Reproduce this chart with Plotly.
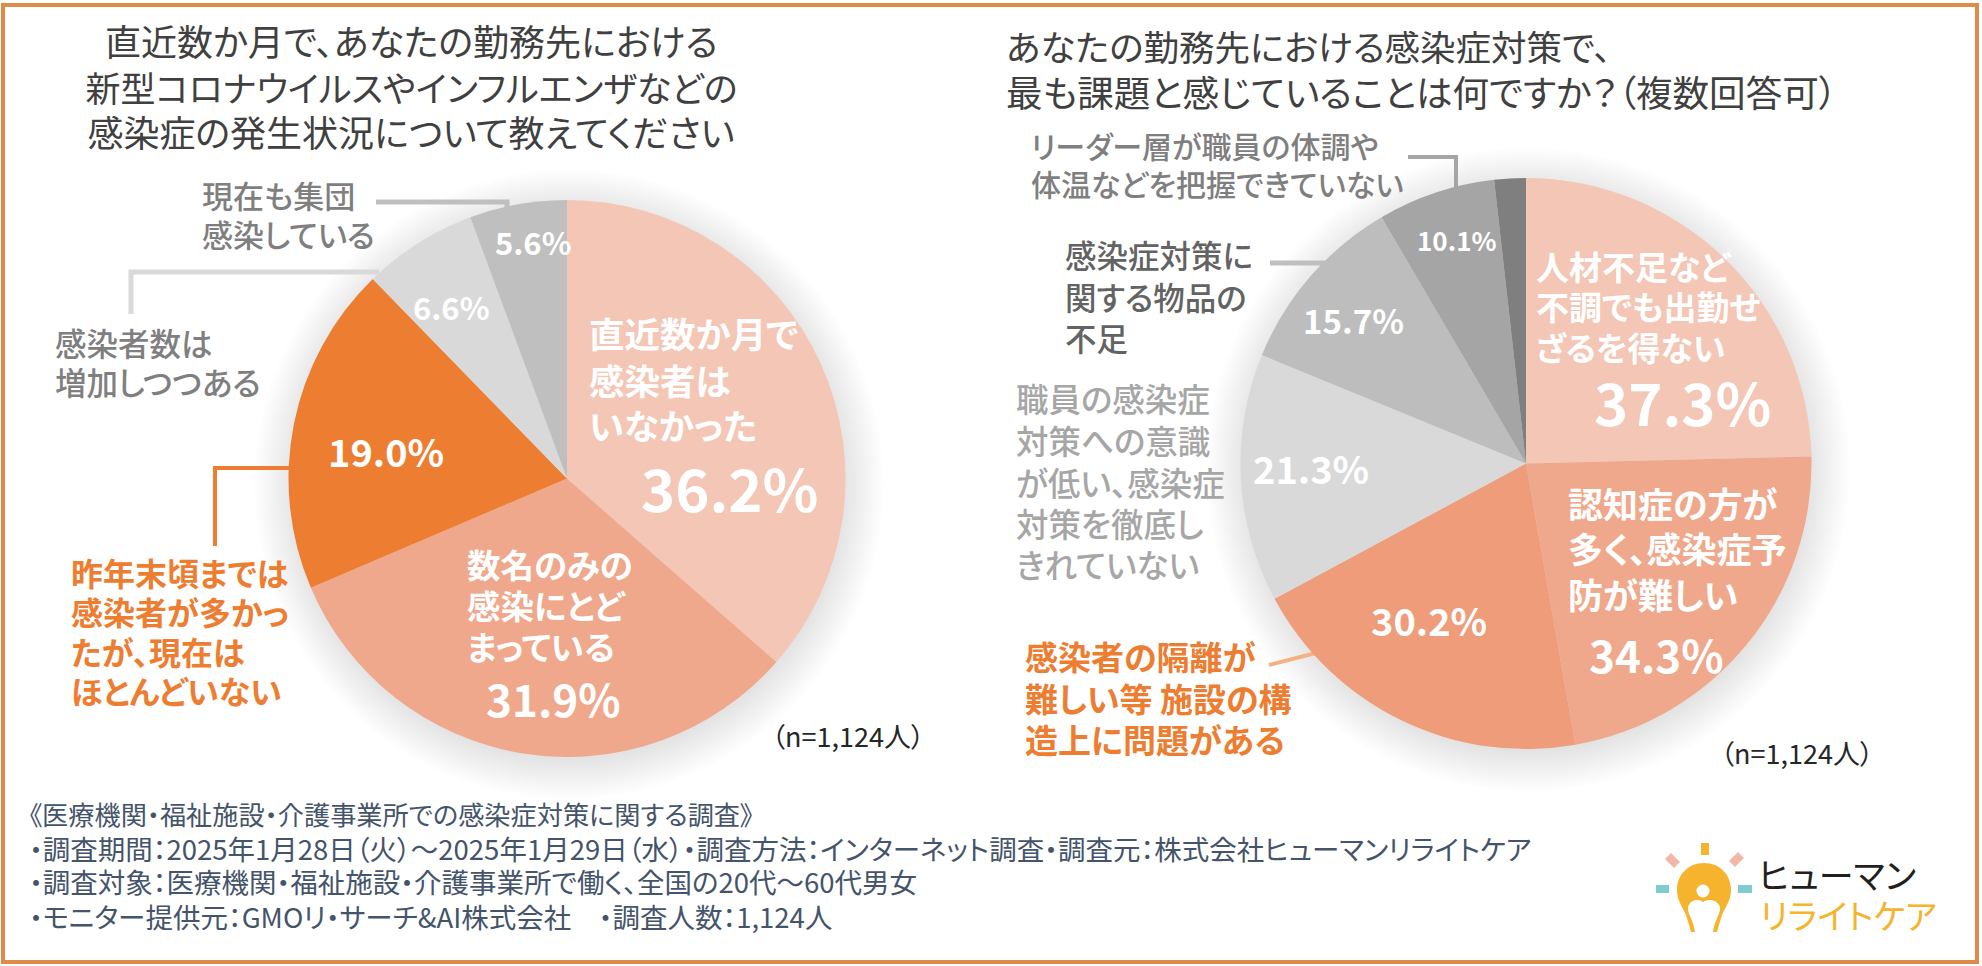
import plotly.graph_objects as go

W, H = 1982, 966
FONT = "Noto Sans CJK JP"

# ---- data ----
left_labels = ["直近数か月で感染者はいなかった", "数名のみの感染にとどまっている",
               "昨年末頃までは感染者が多かったが、現在はほとんどいない",
               "感染者数は増加しつつある", "現在も集団感染している"]
left_values = [36.2, 31.9, 19.0, 6.6, 5.6]
left_colors = ["#F4C6B6", "#F0A88C", "#ED7D31", "#D9D9D9", "#BFBFBF"]

right_labels = ["人材不足など不調でも出勤せざるを得ない", "認知症の方が多く、感染症予防が難しい",
                "感染者の隔離が難しい等 施設の構造上に問題がある",
                "職員の感染症対策への意識が低い、感染症対策を徹底しきれていない",
                "感染症対策に関する物品の不足", "リーダー層が職員の体調や体温などを把握できていない", "その他"]
right_values = [37.3, 34.3, 30.2, 21.3, 15.7, 10.1, 2.7]
right_colors = ["#F4C6B6", "#F0A88C", "#EE9C7A", "#D9D9D9", "#BDBDBD", "#A5A5A5", "#7F7F7F"]

left_title = ["直近数か月で、あなたの勤務先における", "新型コロナウイルスやインフルエンザなどの", "感染症の発生状況について教えてください"]
right_title = ["あなたの勤務先における感染症対策で、", "最も課題と感じていることは何ですか？（複数回答可）"]
footer = ["《医療機関・福祉施設・介護事業所での感染症対策に関する調査》",
          "・調査期間：2025年1月28日（火）～2025年1月29日（水）・調査方法：インターネット調査・調査元：株式会社ヒューマンリライトケア",
          "・調査対象：医療機関・福祉施設・介護事業所で働く、全国の20代～60代男女",
          "・モニター提供元：GMOリ・サーチ&AI株式会社　・調査人数：1,124人"]
sample_note = "（n=1,124人）"


def px(x):
    return x / W


def py(y):
    return 1 - y / H


annotations = []
shapes = []


def text(s, x, y, size, color, weight=400, anchor="left"):
    annotations.append(dict(text=s, x=px(x), y=py(y - 2.5), xref="paper", yref="paper", showarrow=False,
                            xanchor=anchor, align=anchor, yanchor="middle", borderpad=0,
                            font=dict(family=FONT, size=size, color=color, weight=weight)))


def block(lines, x, ys, size, color, weight=400, anchor="left"):
    for s, y in zip(lines, ys):
        text(s, x, y, size, color, weight, anchor)


def pct(v):
    return f"{v:.1f}%"


def poly(points, color, width=4):
    d = "M" + " L".join(f"{px(a):.5f},{py(b):.5f}" for a, b in points)
    shapes.append(dict(type="path", path=d, xref="paper", yref="paper",
                       line=dict(color=color, width=width), layer="below"))


def filled(d_cmds, color):
    out = []
    for c in d_cmds:
        if isinstance(c, str):
            out.append(c)
        else:
            out.append(f"{px(c[0]):.5f},{py(c[1]):.5f}")
    shapes.append(dict(type="path", path=" ".join(out), xref="paper", yref="paper",
                       fillcolor=color, line=dict(width=0), layer="above"))


def ellipse(cx, cy, rx, ry, color, layer="above", opacity=1.0):
    shapes.append(dict(type="circle", xref="paper", yref="paper", x0=px(cx - rx), x1=px(cx + rx),
                       y0=py(cy + ry), y1=py(cy - ry), fillcolor=color, line=dict(width=0),
                       layer=layer, opacity=opacity))


def shadow(cx, cy, r):
    for i in range(16):
        ellipse(cx + 2, cy + 6, r + 36 - i * 3, r + 36 - i * 3, "#000000", "below", 0.009)


def domain(cx, cy, r):
    return dict(x=[px(cx - r), px(cx + r)], y=[py(cy + r), py(cy - r)])


fig = go.Figure()
LC, RC = (567, 478.5, 278.5), (1526, 463.5, 285.5)
shadow(*LC)
shadow(*RC)
for labels, values, colors, geo in [(left_labels, left_values, left_colors, LC),
                                    (right_labels, right_values, right_colors, RC)]:
    fig.add_trace(go.Pie(labels=labels, values=values, sort=False, direction="clockwise", rotation=0,
                         textinfo="none", marker=dict(colors=colors, line=dict(width=0)),
                         domain=domain(*geo), showlegend=False))

# frame
shapes.append(dict(type="rect", xref="paper", yref="paper", x0=px(3), x1=px(1977), y0=py(962), y1=py(5),
                   line=dict(color="#E08A4A", width=4), layer="below"))

# leaders
poly([(376, 202), (507, 202), (507, 209)], "#BFBFBF", 5)
poly([(131, 314), (131, 272), (379, 272)], "#D9D9D9", 5)
poly([(290, 468), (215, 468), (215, 546)], "#ED7D31", 4)
poly([(1408, 157), (1456, 157), (1456, 187)], "#A5A5A5", 4)
poly([(1270, 263), (1325, 263)], "#BFBFBF", 5)
poly([(1269, 665), (1339, 647)], "#F4B183", 4)

DARK = "#404040"
G1 = "#7F7F7F"
ORANGE = "#ED7D31"
WHITE = "#FFFFFF"

# left chart texts
for s, y, size in zip(left_title, [43, 89, 134], [36, 35, 36]):
    text(s, 411, y, size, DARK, anchor="center")
block(["現在も集団", "感染している"], 201, [197, 236], 31, G1, 500)
block(["感染者数は", "増加しつつある"], 54, [344, 383], 31.5, G1, 500)
block(["昨年末頃までは", "感染者が多かっ", "たが、現在は", "ほとんどいない"], 70, [574, 613, 653, 692], 32, ORANGE, 700)
block(["直近数か月で", "感染者は", "いなかった"], 588, [335, 382, 427], 35.5, WHITE, 700)
block(["数名のみの", "感染にとど", "まっている"], 466, [566, 607, 648], 33.5, WHITE, 700)
text(pct(left_values[0]), 729, 489, 58, WHITE, 700, "center")
text(pct(left_values[1]), 553, 700, 44, WHITE, 700, "center")
text(pct(left_values[2]), 386, 453, 38, WHITE, 700, "center")
text(pct(left_values[3]), 451, 309, 31, WHITE, 700, "center")
text(pct(left_values[4]), 533, 244, 31, WHITE, 700, "center")
text(sample_note, 848, 738, 27, "#262626", anchor="center")

# right chart texts
for s, y, size in zip(right_title, [48, 94], [35.5, 36.6]):
    text(s, 1005, y, size, DARK)
block(["リーダー層が職員の体調や", "体温などを把握できていない"], 1030, [147, 185], 30, G1, 500)
block(["感染症対策に", "関する物品の", "不足"], 1064, [256, 298, 339], 31.5, "#636363", 500)
block(["職員の感染症", "対策への意識", "が低い、感染症", "対策を徹底し", "きれていない"], 1015,
      [400, 442, 484, 525, 566], 32.5, "#A6A6A6", 500)
block(["感染者の隔離が", "難しい等 施設の構", "造上に問題がある"], 1024, [658, 700, 741], 33, ORANGE, 700)
block(["人材不足など", "不調でも出勤せ", "ざるを得ない"], 1535, [268, 308, 350], 33, WHITE, 700)
block(["認知症の方が", "多く、感染症予", "防が難しい"], 1567, [505, 550, 596], 35, WHITE, 700)
text(pct(right_values[0]), 1682, 403, 58, WHITE, 700, "center")
text(pct(right_values[1]), 1656, 656, 44, WHITE, 700, "center")
text(pct(right_values[2]), 1429, 622, 38, WHITE, 700, "center")
text(pct(right_values[3]), 1311, 470, 38, WHITE, 700, "center")
text(pct(right_values[4]), 1353, 323, 33, WHITE, 700, "center")
text(pct(right_values[5]), 1457, 242, 26, WHITE, 700, "center")
text(sample_note, 1797, 755, 27, "#262626", anchor="center")

# footer
for s, y, size in zip(footer, [816, 850, 883, 918], [26.2, 27.5, 27.5, 27.5]):
    text(s, 28, y, size, "#44546A")

# logo
GOLD = "#F5B32E"
filled(["M", (1701, 843), "L", (1709, 843), "L", (1709, 855), "L", (1701, 855), "Z"], GOLD)
filled(["M", (1665, 859), "L", (1671, 853), "L", (1680, 862), "L", (1674, 868), "Z"], "#F2B7A6")
filled(["M", (1729, 861), "L", (1738, 852), "L", (1744, 858), "L", (1735, 867), "Z"], "#F2B7A6")
filled(["M", (1656, 885), "L", (1669, 885), "L", (1669, 893), "L", (1656, 893), "Z"], "#7FCBD0")
filled(["M", (1738, 885), "L", (1752, 885), "L", (1752, 893), "L", (1738, 893), "Z"], "#7FCBD0")
filled(["M", (1704, 863), "C", (1688, 863), (1677, 875), (1677, 890),
        "C", (1677, 902), (1684, 908), (1687, 918), "L", (1691, 932), "L", (1717, 932), "L", (1721, 918),
        "C", (1724, 908), (1731, 902), (1731, 890), "C", (1731, 875), (1720, 863), (1704, 863), "Z"], GOLD)
filled(["M", (1703, 902), "C", (1698, 898), (1690, 900), (1688, 907), "C", (1687, 914), (1694, 920), (1695, 933),
        "L", (1713, 933), "C", (1714, 920), (1721, 914), (1720, 907), "C", (1718, 900), (1708, 898), (1703, 902), "Z"],
       WHITE)
ellipse(1703, 891, 6.5, 6.5, WHITE)
text("ヒューマン", 1757, 876, 35, "#231F20")
text("リライトケア", 1759, 917, 34, GOLD)

fig.update_layout(width=W, height=H, margin=dict(l=0, r=0, t=0, b=0, pad=0), paper_bgcolor="white",
                  plot_bgcolor="white", annotations=annotations, shapes=shapes, showlegend=False,
                  font=dict(family=FONT))
# page without its default margin; proportional kana metrics as in the reference
page_js = ("document.body.style.margin='0';"
           "document.documentElement.style.overflow='hidden';"
           "document.body.style.fontFeatureSettings='\"palt\"';")
fig.write_html("out.html", post_script=page_js, config={"displayModeBar": False})
